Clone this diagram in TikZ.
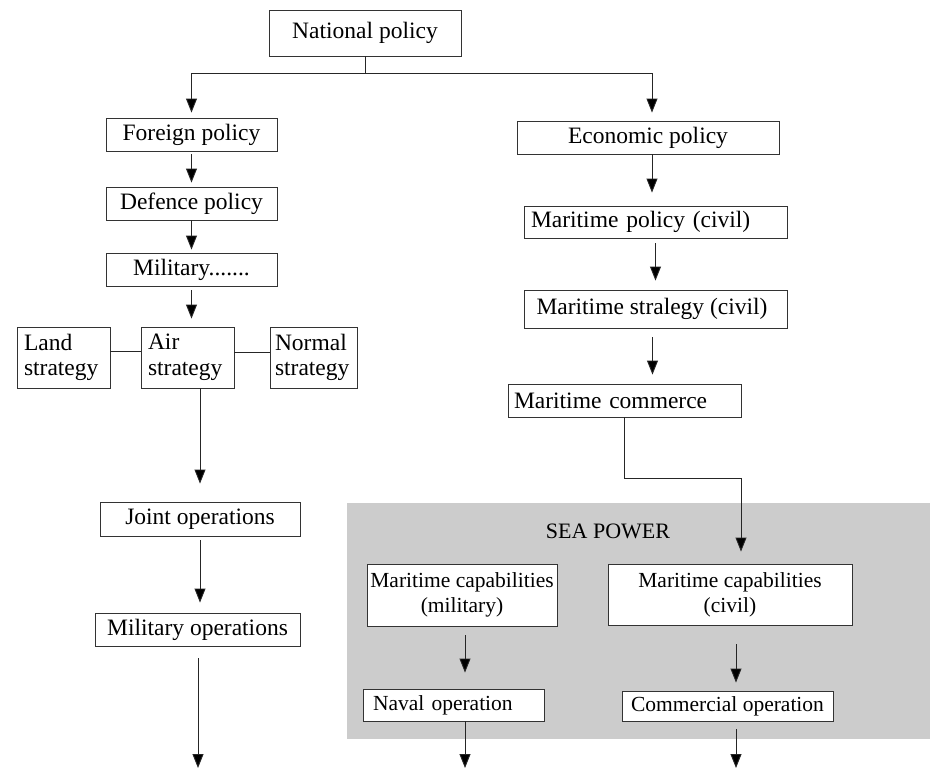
\documentclass[tikz,border=0pt]{standalone}
\usepackage{fontspec}
\setmainfont{Liberation Serif}
\usetikzlibrary{arrows.meta,positioning}
\definecolor{seagray}{RGB}{204,204,204}
\tikzset{>={Triangle[length=14pt,width=11pt]}}
\tikzset{
  box/.style={draw=black!80,line width=0.9pt,inner sep=0pt,fill=white,
    font=\fontsize{23.5}{25.5}\selectfont},
  lbox/.style={box,align=left,inner xsep=7pt},
  sbox/.style={box,font=\fontsize{21.5}{25}\selectfont},
  link/.style={draw=black!85,line width=0.9pt},
  arr/.style={link,-{Triangle[length=14pt,width=11pt,fill=black]}}
}
\begin{document}
\begin{tikzpicture}[x=1pt,y=-1pt]
  \useasboundingbox (0,0) rectangle (930,769);
  % sea power area
  \fill[seagray] (347,503) rectangle (930,739);
  \node[font=\fontsize{22}{25}\selectfont] (sea) at (608,531) {SEA POWER};

  % left branch
  \node[box,minimum width=192pt,minimum height=46pt] (nat) at (365,33) {National policy};
  \node[box,minimum width=171pt,minimum height=33pt] (foreign) at (191.5,134.5) {Foreign policy};
  \node[box,minimum width=171pt,minimum height=33pt] (defence) at (191.5,203.5) {Defence policy};
  \node[box,minimum width=171pt,minimum height=33pt] (military) at (191.5,269.5) {Military.......};
  \node[lbox,text width=79pt,minimum height=61pt] (land) at (63.5,357.5) {Land\\strategy};
  \node[lbox,text width=79pt,minimum height=61pt] (air) at (187.5,357.5) {Air\\strategy};
  \node[lbox,inner xsep=5pt,text width=77pt,minimum height=61pt] (normal) at (313.5,357.5) {Normal\\strategy};
  \node[box,minimum width=200pt,minimum height=34pt] (joint) at (200,519) {Joint operations};
  \node[box,minimum width=205pt,minimum height=33pt] (milop) at (197.5,629.5) {Military operations};

  % right branch
  \node[box,minimum width=262pt,minimum height=33pt] (econ) at (648,137.5) {Economic policy};
  \node[lbox,text width=249pt,minimum height=32pt] (mpol) at (655.5,222) {Maritime policy (civil)};
  \node[box,minimum width=263pt,minimum height=38pt] (mstrat) at (655.5,309) {\hspace*{-7pt}Maritime stralegy (civil)};
  \node[lbox,inner xsep=6pt,text width=221pt,minimum height=33pt] (mcom) at (624.5,400.5) {Maritime commerce};
  \node[sbox,align=center,minimum width=190pt,minimum height=62pt] (capmil) at (462,595) {Maritime capabilities\\(military)};
  \node[sbox,align=center,minimum width=244pt,minimum height=61pt] (capciv) at (730,594.5) {Maritime capabilities\\(civil)};
  \node[sbox,align=left,inner xsep=10pt,text width=161pt,minimum height=32pt] (naval) at (453.5,705) {Naval operation};
  \node[sbox,minimum width=211pt,minimum height=30pt] (comop) at (727.5,706) {Commercial operation};

  \coordinate (bend) at (741,478);
  \coordinate (milend) at (198,768);
  \coordinate (navend) at (465,768);
  \coordinate (comend) at (736,768);

  % connectors
  \draw[link] (nat.south) -- ++(0,17) coordinate (split);
  \draw[arr,shorten >=5pt] (split) -| (foreign.north);
  \draw[arr,shorten >=8pt] (split) -| ([xshift=4pt]econ.north);
  \draw[arr,shorten <=3pt,shorten >=4pt] (foreign) -- (defence);
  \draw[arr,shorten >=3pt] (defence) -- (military);
  \draw[arr,shorten <=4pt,shorten >=8pt] (military.south) -- (military.south |- air.north);
  \draw[link] ([yshift=6pt]land.east) -- ([yshift=6pt]air.west);
  \draw[link] ([yshift=5pt]air.east) -- ([yshift=5pt]normal.west);
  \draw[arr,shorten >=18pt] (joint |- air.south) -- (joint.north);
  \draw[arr,shorten <=4pt,shorten >=10pt] (joint) -- (joint |- milop.north);
  \draw[arr,shorten <=12pt] (milop.south -| milend) -- (milend);

  \draw[arr,shorten >=13pt] ([xshift=4pt]econ.south) -- ([xshift=4pt]econ.south |- mpol.north);
  \draw[arr,shorten <=5pt,shorten >=9pt] (mpol) -- (mstrat);
  \draw[arr,shorten <=9pt,shorten >=9pt] ([xshift=-3pt]mstrat.south) -- ([xshift=-3pt]mstrat.south |- mcom.north);
  \draw[arr,shorten >=12pt] (mcom.south) |- (bend) -- (bend |- capciv.north);
  \draw[arr,shorten <=9pt,shorten >=16pt] ([xshift=3pt]capmil.south) -- ([xshift=3pt]capmil.south |- naval.north);
  \draw[arr,shorten <=19pt,shorten >=8pt] ([xshift=6pt]capciv.south) -- ([xshift=6pt]capciv.south |- comop.north);
  \draw[arr] (naval.south -| navend) -- (navend);
  \draw[arr,shorten <=8pt] (comop.south -| comend) -- (comend);
\end{tikzpicture}
\end{document}
